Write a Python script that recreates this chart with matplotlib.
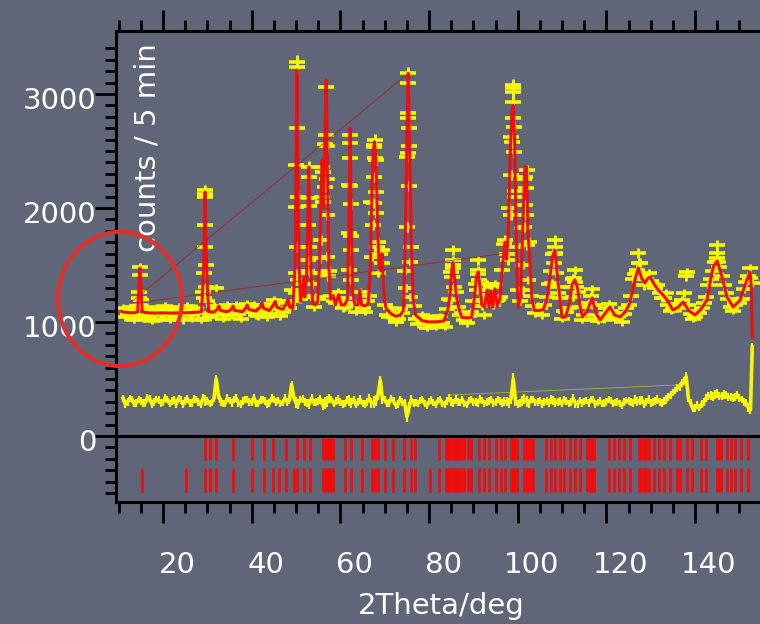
import numpy as np
import matplotlib
matplotlib.use("Agg")
import matplotlib.pyplot as plt
import matplotlib.transforms as mtransforms
from matplotlib.patches import Ellipse
from matplotlib.ticker import MultipleLocator, FixedLocator

# calculated profile (2theta, counts)
calc_tt = [10.8, 11.5, 12.5, 13.5, 14.3, 14.6, 14.8, 15.0, 15.3, 16.5, 18.0, 20.0, 22.0, 24.0,
           26.0, 27.5, 28.7, 29.1, 29.3, 29.5, 29.7, 29.9, 30.3, 31.5, 32.2, 32.6, 33.0, 34.5,
           35.4, 35.8, 36.2, 38.0, 38.6, 39.0, 39.4, 41.0, 41.9, 42.3, 42.7, 44.0, 44.9, 45.3,
           45.7, 47.0, 47.8, 48.2, 48.6, 49.3, 49.8, 50.0, 50.2, 50.4, 50.7, 51.0, 51.4, 51.7,
           52.0, 52.4, 52.7, 52.9, 53.1, 53.4, 53.8, 54.4, 54.9, 55.3, 55.6, 55.9, 56.2, 56.5,
           56.8, 57.1, 57.4, 57.8, 58.4, 58.9, 59.6, 60.2, 61.0, 61.6, 61.9, 62.2, 62.5, 62.8,
           63.3, 64.0, 64.4, 64.8, 65.5, 66.3, 66.8, 67.1, 67.4, 67.7, 68.0, 68.3, 68.7, 69.1,
           69.4, 69.8, 70.3, 71.5, 72.5, 73.5, 74.2, 74.6, 75.0, 75.3, 75.6, 76.0, 76.4, 77.0,
           78.5, 80.0, 82.0, 83.4, 84.2, 84.7, 85.1, 85.4, 85.7, 86.2, 86.8, 87.4, 88.5, 89.6,
           90.2, 90.7, 91.1, 91.5, 91.9, 92.5, 93.1, 93.5, 94.0, 94.4, 94.9, 95.4, 96.0, 96.6,
           97.1, 97.5, 97.9, 98.3, 98.7, 99.0, 99.3, 99.6, 99.9, 100.2, 100.7, 101.2, 101.6,
           102.0, 102.3, 102.7, 103.2, 103.8, 104.8, 105.8, 106.6, 107.3, 107.9, 108.4, 108.9,
           109.4, 110.0, 110.8, 111.6, 112.3, 112.9, 113.5, 114.0, 114.6, 115.6, 116.8, 117.6,
           118.6, 119.8, 120.8, 121.9, 123.1, 124.3, 125.3, 126.3, 127.2, 128.0, 128.7, 129.3,
           129.9, 130.8, 131.7, 132.7, 133.7, 135.0, 136.2, 137.3, 138.6, 140.0, 141.3, 142.7,
           143.4, 144.1, 145.0, 146.1, 147.2, 148.6, 150.2, 151.0, 151.7, 152.4, 152.7, 152.9]
calc_cnt = [1090, 1085, 1082, 1080, 1090, 1350, 1473, 1350, 1090, 1080, 1078, 1080, 1078, 1080,
            1082, 1085, 1090, 1400, 1700, 2140, 1700, 1400, 1090, 1085, 1110, 1140, 1100, 1090,
            1110, 1140, 1100, 1090, 1120, 1150, 1110, 1095, 1130, 1170, 1120, 1100, 1150, 1180,
            1130, 1110, 1160, 1200, 1130, 1120, 1500, 2400, 3210, 2400, 1500, 1180, 1250, 1380,
            1220, 1400, 2000, 2360, 2000, 1400, 1160, 1150, 1180, 1500, 2100, 2420, 2000, 2600,
            3120, 2300, 1500, 1200, 1230, 1150, 1240, 1150, 1150, 1200, 1800, 2700, 1800, 1250,
            1150, 1150, 1280, 1150, 1140, 1160, 1500, 2100, 2500, 2580, 2450, 2000, 1500, 1450,
            1600, 1250, 1120, 1070, 1050, 1060, 1100, 1600, 2600, 3180, 2600, 1700, 1200, 1060,
            1010, 1000, 1002, 1010, 1100, 1230, 1450, 1520, 1400, 1220, 1110, 1040, 1035, 1040,
            1200, 1400, 1440, 1300, 1150, 1130, 1280, 1130, 1270, 1130, 1290, 1140, 1200, 1500,
            1700, 1550, 1800, 2450, 2850, 2900, 2600, 1900, 1300, 1130, 1250, 1900, 2360,
            2360, 1800, 1550, 1200, 1100, 1100, 1110, 1200, 1400, 1580, 1630, 1420,
            1250, 1040, 1045, 1150, 1330, 1370, 1300, 1150, 1044, 1090, 1210, 1080,
            1017, 1080, 1131, 1060, 1044, 1090, 1166, 1350, 1473, 1380, 1342, 1380,
            1394, 1330, 1280, 1240, 1193, 1105, 1130, 1175, 1100, 1061, 1110, 1193,
            1350, 1482, 1535, 1394, 1219, 1131, 1193, 1290, 1368, 1438, 1300, 868]

# observed points, whole-degree grid 11..152 plus the last point
obs_tt = list(range(11, 153)) + [152.9]
obs_cnt = [1120, 1070, 1100, 1060, 1190, 1050, 1110, 1070, 1095, 1060, 1105, 1075, 1040, 1100,
           1085, 1060, 1110, 1075, 1260, 1180, 1070, 1300, 1090, 1060, 1110, 1130, 1070, 1100,
           1160, 1085, 1060, 1150, 1100, 1070, 1190, 1120, 1090, 1180, 1280, 2380, 1200, 1230,
           2020, 1130, 1200, 2050, 2250, 1230, 1170, 1180, 1130, 2200, 1170, 1160, 1120, 1180,
           2050, 2420, 1600, 1150, 1040, 1070, 1030, 1080, 2450, 1660, 1030, 1040, 990, 1010,
           975, 1020, 990, 1110, 1440, 1260, 1060, 1020, 1055, 1180, 1420, 1140, 1240, 1230,
           1180, 1220, 1680, 2000, 3050, 1280, 1820, 2330, 1230, 1080, 1120, 1150, 1330, 1600,
           1310, 1030, 1090, 1310, 1350, 1130, 1060, 1170, 1150, 1010, 1060, 1120, 1100, 1030,
           1060, 1070, 1150, 1380, 1460, 1400, 1380, 1360, 1300, 1250, 1210, 1150, 1110, 1160,
           1190, 1400, 1070, 1040, 1080, 1170, 1320, 1450, 1560, 1400, 1250, 1130, 1150, 1170,
           1290, 1400, 1340]

# observed points, half-degree grid 11.5..152.5
half_tt = [t + 0.5 for t in range(11, 153)]
half_cnt = [1040, 1130, 1020, 1210, 1030, 1130, 1010, 1120, 1030, 1140,
            1020, 1110, 1130, 1015, 1140, 1030, 1120, 1020, 2120, 1040,
            1140, 1120, 1030, 1150, 1060, 1150, 1030, 1130, 1090, 1150,
            1050, 1140, 1040, 1160, 1110, 1050, 1170, 1120, 1180, 2100,
            1330, 1450, 1330, 1220, 1560, 2560, 1450, 1180, 1260, 1120,
            1210, 1750, 1090, 1260, 1090, 1230, 2550, 1700, 1520, 1060,
            1120, 1000, 1110, 1450, 2700, 1140, 980, 1060, 950, 1040,
            960, 1050, 960, 1200, 1500, 1130, 1080, 990, 1090, 1330,
            1280, 1060, 1180, 1150, 1190, 1460, 1600, 2620, 2150, 1180,
            2250, 1700, 1140, 1140, 1060, 1220, 1450, 1600, 1210, 1100,
            1120, 1380, 1260, 1020, 1130, 1230, 1030, 1060, 1020, 1160,
            1040, 1080, 1000, 1120, 1230, 1420, 1520, 1320, 1430, 1330,
            1320, 1210, 1250, 1100, 1150, 1120, 1250, 1150, 1030, 1100,
            1120, 1220, 1380, 1530, 1480, 1320, 1200, 1100, 1190, 1200,
            1350, 1470]

# observed points stacked along the peaks
peak_tt = [14.75, 14.85, 14.65, 14.95, 14.55,
           29.5, 29.45, 29.55, 29.4, 29.6, 29.35, 29.65, 29.3,
           50.2, 50.15, 50.25, 50.1, 50.3, 50.05, 50.4, 49.95,
           52.9, 52.85, 52.95, 52.8, 53.0, 52.75, 53.1,
           56.8, 56.7, 56.9, 55.9, 56.0, 56.6, 55.8, 57.0, 55.7, 57.1, 55.5, 57.3,
           62.2, 62.15, 62.25, 62.1, 62.3, 62.05, 62.35, 62.0, 62.45,
           67.8, 67.7, 67.9, 67.6, 68.0, 67.5, 68.1, 67.4, 68.2, 67.2, 69.4, 68.5,
           75.3, 75.25, 75.35, 75.2, 75.4, 75.15, 75.5, 75.05, 75.6, 74.9, 75.8,
           85.4, 85.3, 85.5, 85.2, 85.7, 84.9,
           91.1, 91.0, 91.2, 90.8, 91.4,
           93.1, 94.0, 94.9,
           99.0, 98.95, 99.05, 98.9, 99.1, 98.8, 99.2, 98.6, 99.4, 98.4, 97.1, 99.6, 97.9,
           101.7, 101.8, 101.6, 101.9, 101.5, 102.1, 101.3, 102.4, 101.1,
           108.4, 108.3, 108.5, 108.2, 108.7, 107.8, 109.0,
           112.9, 112.8, 113.1, 112.5,
           116.8, 127.2, 127.4, 127.0, 138.2, 145.0, 144.9, 145.2, 152.4]
peak_cnt = [1480, 1410, 1260, 1190, 1150,
            2157, 2096, 1850, 1658, 1500, 1430, 1307, 1210,
            3280, 3236, 2701, 2008, 1658, 1430, 1368, 1250,
            2359, 2271, 2087, 1850, 1658, 1543, 1430,
            3061, 2640, 2543, 2359, 2315, 2184, 2096, 1938, 1719, 1570, 1430, 1400,
            2640, 2570, 2438, 2193, 2035, 1780, 1631, 1456, 1368,
            2596, 2535, 2438, 2271, 2140, 2043, 1956, 1850, 1658, 1570, 1630, 1430,
            3184, 3096, 2833, 2789, 2543, 2482, 2193, 1833, 1526, 1298, 1219,
            1631, 1543, 1473, 1394, 1307, 1193,
            1543, 1456, 1368, 1280, 1193,
            1330, 1310, 1330,
            3078, 3017, 2929, 2789, 2710, 2578, 2491, 2289, 2096, 1938, 1719, 1658, 1543,
            2271, 2175, 2026, 1938, 1833, 1675, 1500, 1368, 1280,
            1719, 1658, 1605, 1517, 1430, 1342, 1254,
            1456, 1386, 1307, 1219,
            1290, 1605, 1520, 1440, 1438, 1675, 1605, 1526, 1386]

# difference curve (offset), whole-degree grid (same as obs_tt)
diff_cnt = [330, 300, 320, 290, 310, 290, 325, 300, 315, 295, 320, 305, 280, 315, 305, 290,
            325, 300, 330, 310, 295, 500, 300, 285, 310, 320, 290, 305, 320, 300, 285, 315,
            305, 290, 320, 310, 295, 300, 450, 290, 320, 300, 280, 295, 310, 275, 300, 320,
            305, 300, 285, 310, 320, 295, 285, 300, 290, 310, 490, 320, 290, 305, 280, 300,
            170, 320, 295, 310, 285, 300, 290, 310, 285, 305, 300, 320, 295, 285, 310, 300,
            290, 310, 300, 320, 295, 305, 300, 290, 500, 280, 310, 305, 320, 295, 310, 300,
            290, 310, 300, 285, 305, 300, 285, 310, 300, 290, 320, 295, 285, 300, 310, 295,
            285, 300, 310, 290, 300, 315, 300, 290, 305, 300, 310, 340, 380, 420, 465, 520,
            290, 245, 250, 300, 350, 345, 370, 350, 360, 340, 345, 330, 300, 250, 780]

# difference curve, half-degree grid (same as half_tt)
diff_half = [280, 330, 285, 320, 290, 335, 280, 320, 290, 335,
             285, 315, 330, 280, 325, 290, 320, 275, 310, 285,
             330, 360, 285, 330, 290, 330, 280, 320, 300, 335,
             285, 320, 280, 330, 300, 285, 330, 310, 340, 280,
             325, 290, 330, 300, 320, 290, 330, 285, 320, 280,
             315, 290, 275, 320, 280, 330, 300, 360, 320, 285,
             330, 270, 320, 290, 250, 290, 285, 320, 270, 315,
             275, 320, 280, 330, 290, 300, 320, 275, 320, 300,
             325, 285, 310, 290, 320, 290, 300, 330, 310, 290,
             325, 285, 320, 300, 280, 310, 320, 290, 310, 320,
             285, 330, 280, 290, 310, 320, 280, 310, 290, 320,
             285, 300, 270, 310, 300, 320, 310, 280, 320, 300,
             320, 290, 320, 360, 400, 430, 480, 330, 240, 270,
             280, 330, 355, 360, 350, 365, 340, 335, 360, 320,
             290, 230]

# stray connector segments visible in the original plot
wrap_calc_tt = [[12.6, 75.3], [12.6, 96.6]]
wrap_calc_cnt = [[1166, 3180], [1160, 1600]]
wrap_diff_tt = [84.7, 135.9]
wrap_diff_cnt = [360, 447]

# reflection positions, phase 1 and phase 2
refl1 = [29.5, 30.7, 32.0, 35.8, 40.0, 42.8, 44.7, 47.8, 50.2, 51.7, 53.1, 56.1, 56.6, 57.0,
         57.5, 57.9, 58.3, 61.1, 62.5, 64.9, 67.1, 67.8, 68.5, 70.1, 71.9, 74.3, 76.0, 76.8,
         82.2, 83.8, 84.3, 84.8, 85.3, 85.8, 86.3, 86.8, 87.3, 87.9, 88.8, 89.5, 91.2, 92.4,
         93.6, 95.0, 96.2, 97.1, 98.4, 98.9, 99.4, 99.8, 101.4, 101.9, 102.4, 102.9, 103.4,
         106.4, 107.6, 108.3, 109.5, 110.5, 111.7, 112.9, 114.0, 115.7, 116.2, 116.8, 117.3,
         120.7, 121.8, 122.8, 124.0, 125.4, 127.3, 127.9, 128.5, 129.0, 129.7, 130.7, 131.9,
         133.0, 134.4, 135.9, 136.6, 138.1, 139.2, 141.3, 142.5, 144.9, 145.4, 145.8, 147.3,
         148.2, 149.1, 150.3, 152.0]
refl2_extra = [15.2, 25.3, 46.1, 49.5, 80.3]

BG = "#5f6677"
YEL = "#f8f800"
RED = "#f20d0d"
plt.rcParams["font.family"] = ["DejaVu Sans"]

fig = plt.figure(figsize=(7.6, 6.24), dpi=100, facecolor=BG)
ax = fig.add_axes([116 / 760, 1 - 502 / 624, 650 / 760, 471 / 624])
ax.set_facecolor(BG)

obs_all_tt = np.concatenate([obs_tt, half_tt, peak_tt])
obs_all_cnt = np.concatenate([obs_cnt, half_cnt, peak_cnt])
ax.errorbar(obs_all_tt, obs_all_cnt, yerr=np.sqrt(obs_all_cnt), fmt="_", ms=12, mew=2.6,
            elinewidth=2.0, color=YEL, zorder=2)
for t, c in zip(wrap_calc_tt, wrap_calc_cnt):
    ax.plot(t, c, color="#b01818", lw=0.7, alpha=0.7, zorder=2.5)
ax.plot(calc_tt, calc_cnt, color=RED, lw=2.2, zorder=3)

# merge both grids of the difference curve in 2theta order
d_tt = np.concatenate([obs_tt, half_tt])
d_cnt = np.concatenate([diff_cnt, diff_half])
d_err = np.sqrt(np.concatenate([obs_cnt, half_cnt]))
order = np.argsort(d_tt)
ax.plot(wrap_diff_tt, wrap_diff_cnt, color=YEL, lw=0.6, alpha=0.5, zorder=2)
ax.errorbar(d_tt[order], d_cnt[order], yerr=d_err[order], fmt="-", lw=2.6, elinewidth=1.6,
            color=YEL, zorder=2)

ax.axhline(0, color="black", lw=2.2, zorder=1.5)
ax.vlines(refl1, -15, -210, color=RED, lw=2)
ax.vlines(refl1 + refl2_extra, -280, -490, color=RED, lw=2)

ax.set_xlim(9.4, 156)
ax.set_ylim(-579, 3552)

ax.xaxis.set_major_locator(MultipleLocator(20))
ax.xaxis.set_minor_locator(MultipleLocator(5))
ax.yaxis.set_major_locator(FixedLocator([0, 1000, 2000, 3000]))
ax.yaxis.set_minor_locator(FixedLocator(list(range(-500, 3401, 100))))
ax.tick_params(which="both", direction="out", top=True, right=False, color="black",
               labelcolor="white", labelsize=21, width=2)
ax.tick_params(which="major", length=15)
ax.tick_params(which="minor", length=8)
ax.tick_params(axis="x", pad=20)
ax.tick_params(axis="y", pad=-1)

for s in ["left", "top", "bottom"]:
    ax.spines[s].set_linewidth(2.2)
    ax.spines[s].set_color("black")
ax.spines["right"].set_visible(False)

xoff = mtransforms.ScaledTranslation(0.14, 0, fig.dpi_scale_trans)
for lab in ax.get_xticklabels():
    lab.set_transform(lab.get_transform() + xoff)
yoff = mtransforms.ScaledTranslation(0, -0.04, fig.dpi_scale_trans)
for lab in ax.get_yticklabels():
    lab.set_transform(lab.get_transform() + yoff)

ax.set_xlabel("2Theta/deg", color="white", fontsize=21, labelpad=10)
fig.text(148 / 760, 1 - 148 / 624, "counts / 5 min", rotation=90, color="white",
         fontsize=21, ha="center", va="center")

circ = Ellipse((120 / 760, 1 - 299 / 624), 124 / 760, 134 / 624, transform=fig.transFigure,
               fill=False, ec="#e0302c", lw=3, zorder=10)
fig.add_artist(circ)

fig.savefig("out.png", dpi=100, facecolor=BG)
